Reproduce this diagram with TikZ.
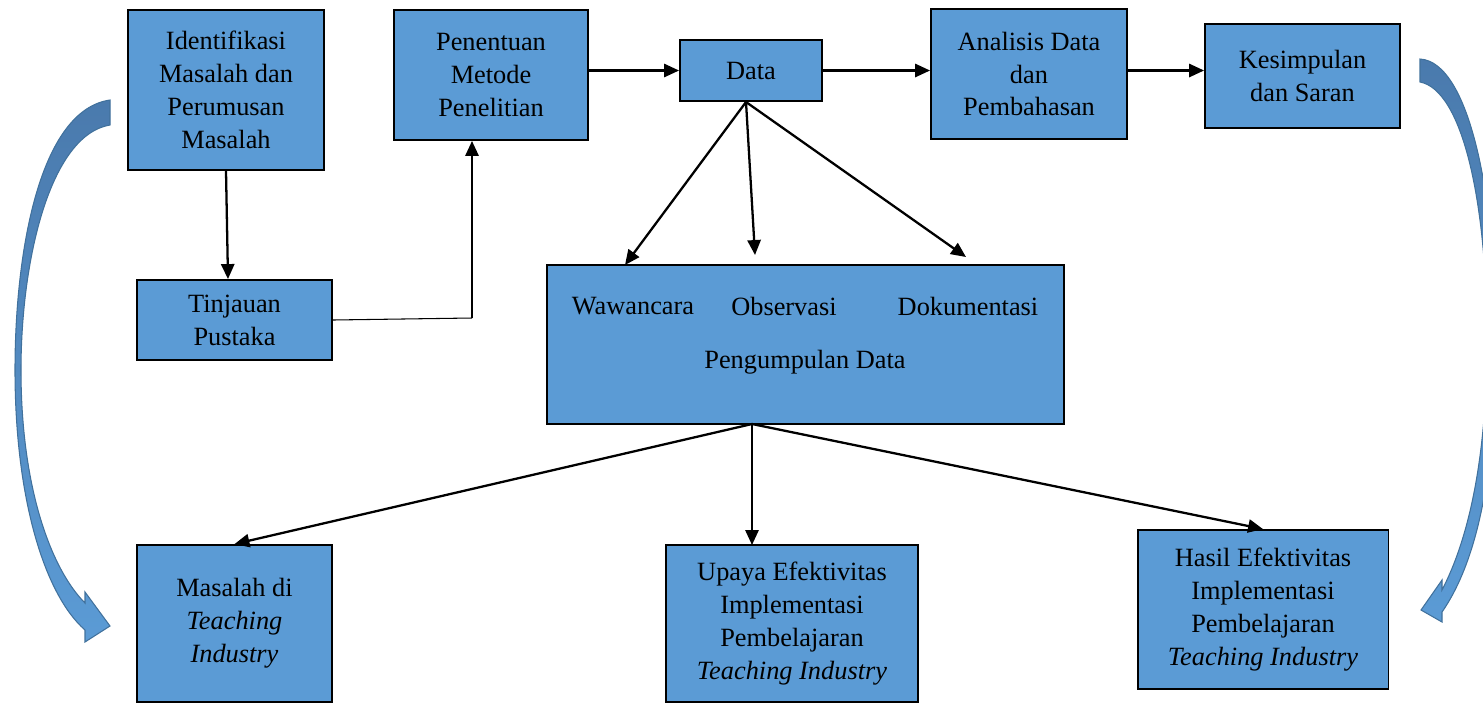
\documentclass[tikz,border=0pt]{standalone}
\usepackage{fontspec}
\setmainfont{Liberation Serif}
\usetikzlibrary{arrows.meta}

\definecolor{kotakBiru}{HTML}{5B9BD5}
\definecolor{panahAtas}{HTML}{4A7AAD}
\definecolor{panahGaris}{HTML}{41719C}

\tikzset{
  kotak/.style={draw=black, line width=1.1pt, fill=kotakBiru, align=center,
    inner sep=2pt, font=\fontsize{15}{18.7}\selectfont},
  teks/.style={inner sep=0pt, font=\fontsize{15}{18.7}\selectfont},
  panah/.style={-{Triangle[length=8.5pt,width=7.5pt]}, line width=1.3pt},
  panahLengkung/.style={top color=panahAtas, bottom color=kotakBiru,
    draw=panahGaris, line width=0.6pt}
}

\begin{document}
\begin{tikzpicture}[x=0.02cm,y=-0.02cm]
  \useasboundingbox (0,0) rectangle (1483,704);

  % baris atas
  \node[kotak, minimum width=3.92cm, minimum height=3.2cm] (identifikasi) at (226,90)
    {Identifikasi\\Masalah dan\\Perumusan\\Masalah};
  \node[kotak, minimum width=3.88cm, minimum height=2.6cm] (penentuan) at (491,75)
    {Penentuan\\Metode\\Penelitian};
  \node[kotak, minimum width=2.84cm, minimum height=1.22cm] (data) at (751,70.5) {Data};
  \node[kotak, minimum width=3.92cm, minimum height=2.6cm] (analisis) at (1029,74)
    {Analisis Data\\dan\\Pembahasan};
  \node[kotak, minimum width=3.9cm, minimum height=2.08cm] (kesimpulan) at (1302.5,76)
    {Kesimpulan\\dan Saran};

  % baris tengah
  \node[kotak, minimum width=3.9cm, minimum height=1.6cm] (tinjauan) at (234.5,320)
    {Tinjauan\\Pustaka};
  \node[kotak, minimum width=10.34cm, minimum height=3.18cm] (pengumpulan) at (805.5,344.5) {};
  \node[teks] (wawancara) at (633,306) {Wawancara};
  \node[teks] (observasi) at (784,306) {Observasi};
  \node[teks] (dokumentasi) at (968,306) {Dokumentasi};
  \node[teks] (judulPengumpulan) at (805,362) {Pengumpulan Data};

  % baris bawah
  \node[kotak, minimum width=3.9cm, minimum height=3.14cm] (masalah) at (234.5,623.5)
    {Masalah di\\\textit{Teaching}\\\textit{Industry}};
  \node[kotak, minimum width=5.04cm, minimum height=3.14cm] (upaya) at (792,623.5)
    {Upaya Efektivitas\\Implementasi\\Pembelajaran\\\textit{Teaching Industry}};
  \node[kotak, minimum width=5.02cm, minimum height=3.18cm] (hasil) at (1263,609.5)
    {Hasil Efektivitas\\Implementasi\\Pembelajaran\\\textit{Teaching Industry}};

  % titik bantu
  \coordinate (belok) at (472,318);
  \coordinate (dariData) at (746,102);
  \coordinate (keWawancara) at (625,265);
  \coordinate (keObservasi) at (755,255);
  \coordinate (keDokumentasi) at (966,257);
  \coordinate (dariPengumpulan) at (752,424);
  \coordinate (keUpaya) at (752,545);

  % panah
  \draw[panah] (identifikasi.south) -- (228,279);
  \draw[line width=0.6pt] (tinjauan.east) -- (belok);
  \draw[panah] (belok) -- (penentuan.south -| belok);
  \draw[panah] (penentuan.east |- data.west) -- (data.west);
  \draw[panah] (data.east) -- (analisis.west |- data.east);
  \draw[panah] (analisis.east |- data.east) -- (kesimpulan.west |- data.east);
  \draw[panah] (dariData) -- (keWawancara);
  \draw[panah] (dariData) -- (keObservasi);
  \draw[panah] (dariData) -- (keDokumentasi);
  \draw[panah] (dariPengumpulan) -- (masalah.north);
  \draw[panah] (dariPengumpulan) -- (keUpaya);
  \draw[panah] (dariPengumpulan) -- (hasil.north);

  % panah lengkung kiri
  \draw[panahLengkung] (110,100) .. controls (40,110) and (15,250) .. (15,370)
    .. controls (15,500) and (45,595) .. (85,630) -- (85,642) -- (110,626)
    -- (85,592) -- (85,603) .. controls (52,570) and (21,490) .. (21,370)
    .. controls (21,260) and (50,135) .. (110,125) -- cycle;

  % panah lengkung kanan
  \begin{scope}
    \clip (0,0) rectangle (1483,704);
    \draw[panahLengkung] (1420,59) .. controls (1470,62) and (1496,200) .. (1496,340)
      .. controls (1496,470) and (1478,560) .. (1442,612) -- (1442,622) -- (1421,610)
      -- (1442,580) -- (1442,590) .. controls (1468,540) and (1487,460) .. (1487,340)
      .. controls (1487,200) and (1462,90) .. (1420,82) -- cycle;
  \end{scope}
\end{tikzpicture}
\end{document}
